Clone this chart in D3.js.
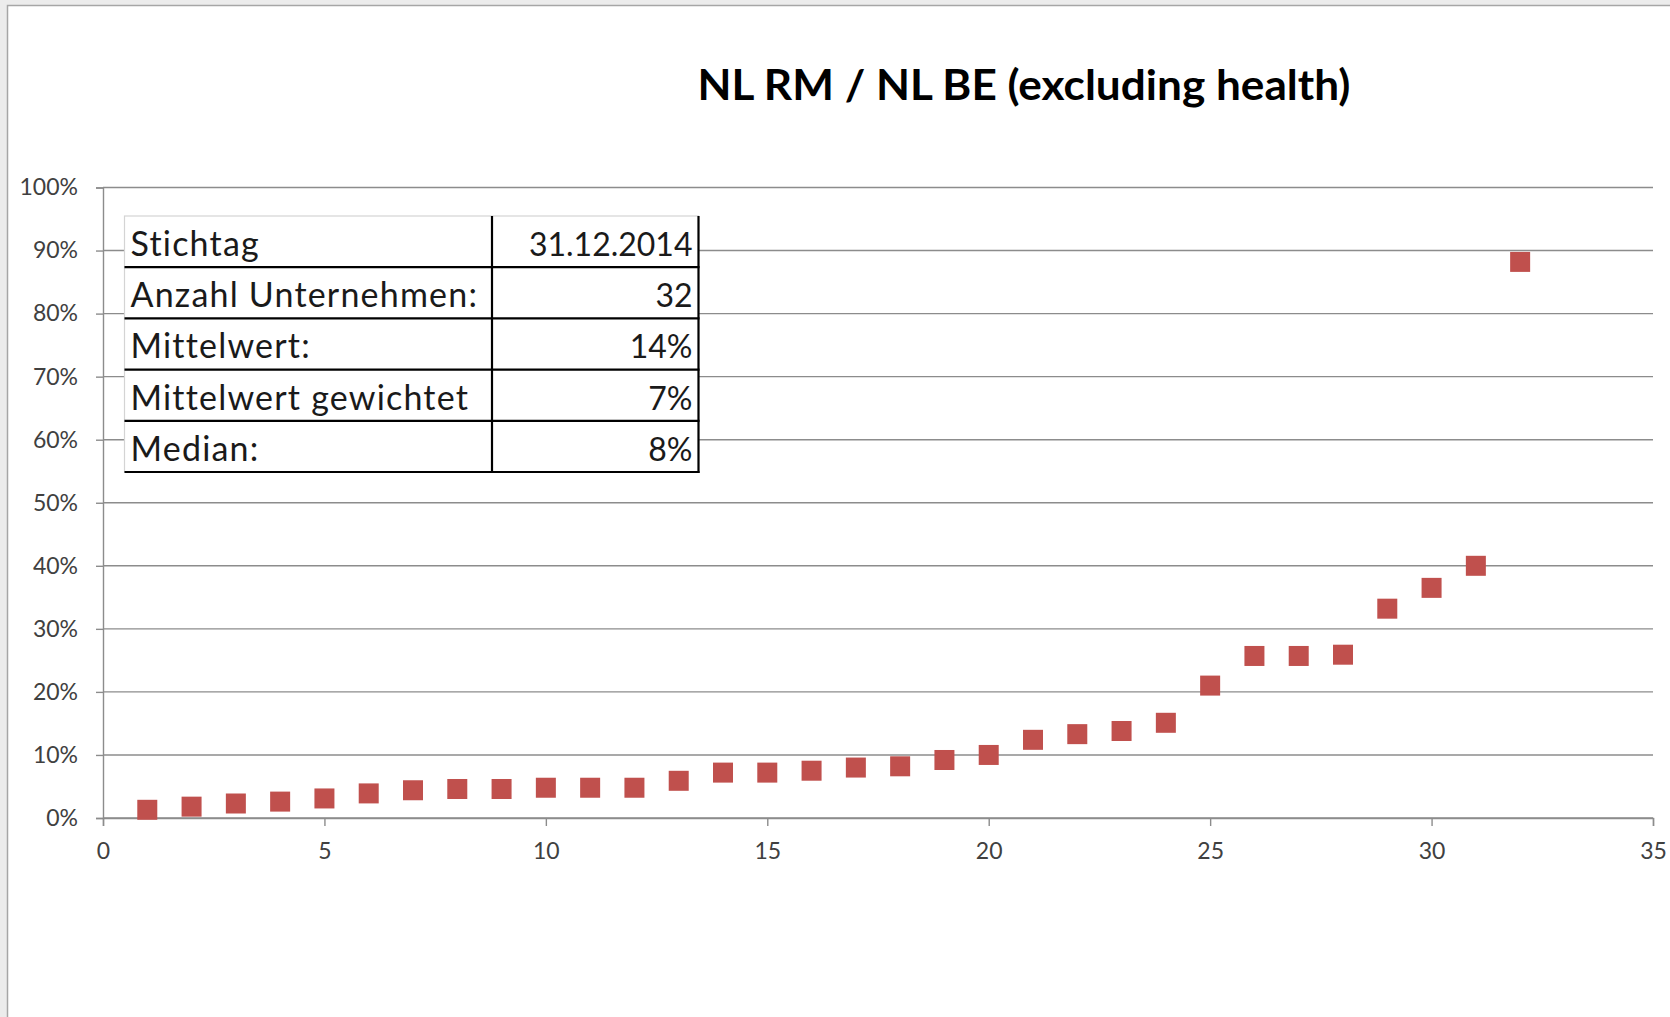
<!DOCTYPE html>
<html>
<head>
<meta charset="utf-8">
<script src="https://cdn.jsdelivr.net/npm/d3@7"></script>
<style>
  html, body { margin: 0; padding: 0; background: #ececec; }
  svg { display: block; }
  text { font-family: Lato, "Open Sans", "DejaVu Sans", sans-serif; }
</style>
</head>
<body>
<svg id="chart" width="1670" height="1017"></svg>
<script>
// Ratio per company, sorted ascending (company rank 1..32)
const ranks = d3.range(1, 33);
const ratios = [1.3, 1.8, 2.3, 2.6, 3.1, 3.9, 4.4, 4.6, 4.6, 4.8, 4.8, 4.8,
                5.9, 7.2, 7.2, 7.5, 8.0, 8.2, 9.2, 10.0, 12.4, 13.3, 13.8, 15.1,
                21.0, 25.7, 25.7, 25.9, 33.2, 36.5, 40.0, 88.2];

const xTicks = [0, 5, 10, 15, 20, 25, 30, 35];
const yTicks = [0, 10, 20, 30, 40, 50, 60, 70, 80, 90, 100];

const titleText = "NL RM / NL BE (excluding health)";

// Summary table rows: label, value
const tableLabels = ["Stichtag", "Anzahl Unternehmen:", "Mittelwert:", "Mittelwert gewichtet", "Median:"];
const tableValues = ["31.12.2014", "32", "14%", "7%", "8%"];

const W = 1670, H = 1017;
const plot = { left: 103, right: 1653, top: 187.5, bottom: 818 };

const svg = d3.select("#chart");

// Chart frame
svg.append("rect")
  .attr("x", 7.5).attr("y", 5.5)
  .attr("width", W + 20).attr("height", H + 20)
  .attr("fill", "#ffffff")
  .attr("stroke", "#a6a6a6").attr("stroke-width", 1.5);

const x = d3.scaleLinear().domain([0, 35]).range([plot.left, plot.right]);
const y = d3.scaleLinear().domain([0, 100]).range([plot.bottom, plot.top]);

const gridColor = "#8c8c8c";
const tickFont = "23px";

// Horizontal gridlines
svg.append("g")
  .selectAll("line")
  .data(yTicks)
  .join("line")
  .attr("x1", plot.left).attr("x2", plot.right)
  .attr("y1", d => y(d)).attr("y2", d => y(d))
  .attr("stroke", gridColor).attr("stroke-width", 1.4);

// Y axis
const yAxis = svg.append("g")
  .attr("transform", `translate(${plot.left},0)`)
  .call(d3.axisLeft(y).tickValues(yTicks).tickSize(7).tickPadding(18).tickFormat(d => d + "%"));
yAxis.select(".domain").attr("stroke", gridColor).attr("stroke-width", 1.4);
yAxis.selectAll(".tick line").attr("stroke", gridColor).attr("stroke-width", 1.4);
yAxis.selectAll(".tick text")
  .attr("fill", "#404040")
  .style("font-size", tickFont)
  .style("font-family", "Lato, 'Open Sans', sans-serif");

// X axis
const xAxis = svg.append("g")
  .attr("transform", `translate(0,${plot.bottom})`)
  .call(d3.axisBottom(x).tickValues(xTicks).tickSize(8).tickPadding(17));
xAxis.select(".domain").attr("stroke", gridColor).attr("stroke-width", 1.4);
xAxis.selectAll(".tick line").attr("stroke", gridColor).attr("stroke-width", 1.4);
xAxis.selectAll(".tick text")
  .attr("fill", "#404040")
  .style("font-size", tickFont)
  .style("font-family", "Lato, 'Open Sans', sans-serif");

// Square markers
const markerSize = 20;
svg.append("g")
  .selectAll("rect")
  .data(ranks.map((r, i) => ({ r, v: ratios[i] })))
  .join("rect")
  .attr("x", d => x(d.r) - markerSize / 2)
  .attr("y", d => y(d.v) - markerSize / 2)
  .attr("width", markerSize).attr("height", markerSize)
  .attr("fill", "#c0504d");

// Title
svg.append("text")
  .attr("x", 1024).attr("y", 100)
  .attr("text-anchor", "middle")
  .attr("fill", "#000")
  .style("font-size", "42px")
  .style("font-weight", "bold")
  .attr("textLength", 653)
  .attr("lengthAdjust", "spacingAndGlyphs")
  .text(titleText);

// Summary table
const tbl = { left: 124.5, right: 698.5, top: 216, split: 492, rowH: 51.2 };
const tg = svg.append("g");
tg.append("rect")
  .attr("x", tbl.left).attr("y", tbl.top)
  .attr("width", tbl.right - tbl.left).attr("height", tbl.rowH * tableLabels.length)
  .attr("fill", "#ffffff")
  .attr("stroke", "#d4d4d4").attr("stroke-width", 1.2);

const rows = tg.selectAll("g.row")
  .data(tableLabels.map((l, i) => ({ l, v: tableValues[i], i })))
  .join("g").attr("class", "row")
  .attr("transform", d => `translate(0,${tbl.top + d.i * tbl.rowH})`);

// row bottom borders
rows.append("line")
  .attr("x1", tbl.left).attr("x2", tbl.right + 1)
  .attr("y1", tbl.rowH).attr("y2", tbl.rowH)
  .attr("stroke", "#000").attr("stroke-width", 2.2);

rows.append("text")
  .attr("x", tbl.left + 6).attr("y", 40)
  .attr("fill", "#1a1a1a")
  .style("font-size", "34px")
  .style("letter-spacing", "1.2px")
  .text(d => d.l);

rows.append("text")
  .attr("x", tbl.right - 6).attr("y", 40)
  .attr("text-anchor", "end")
  .attr("fill", "#1a1a1a")
  .style("font-size", "32px")
  .text(d => d.v);

// column divider and right edge
tg.append("line")
  .attr("x1", tbl.split).attr("x2", tbl.split)
  .attr("y1", tbl.top).attr("y2", tbl.top + tbl.rowH * tableLabels.length)
  .attr("stroke", "#000").attr("stroke-width", 2.2);
tg.append("line")
  .attr("x1", tbl.right).attr("x2", tbl.right)
  .attr("y1", tbl.top).attr("y2", tbl.top + tbl.rowH * tableLabels.length + 1)
  .attr("stroke", "#000").attr("stroke-width", 2.2);
</script>
</body>
</html>
